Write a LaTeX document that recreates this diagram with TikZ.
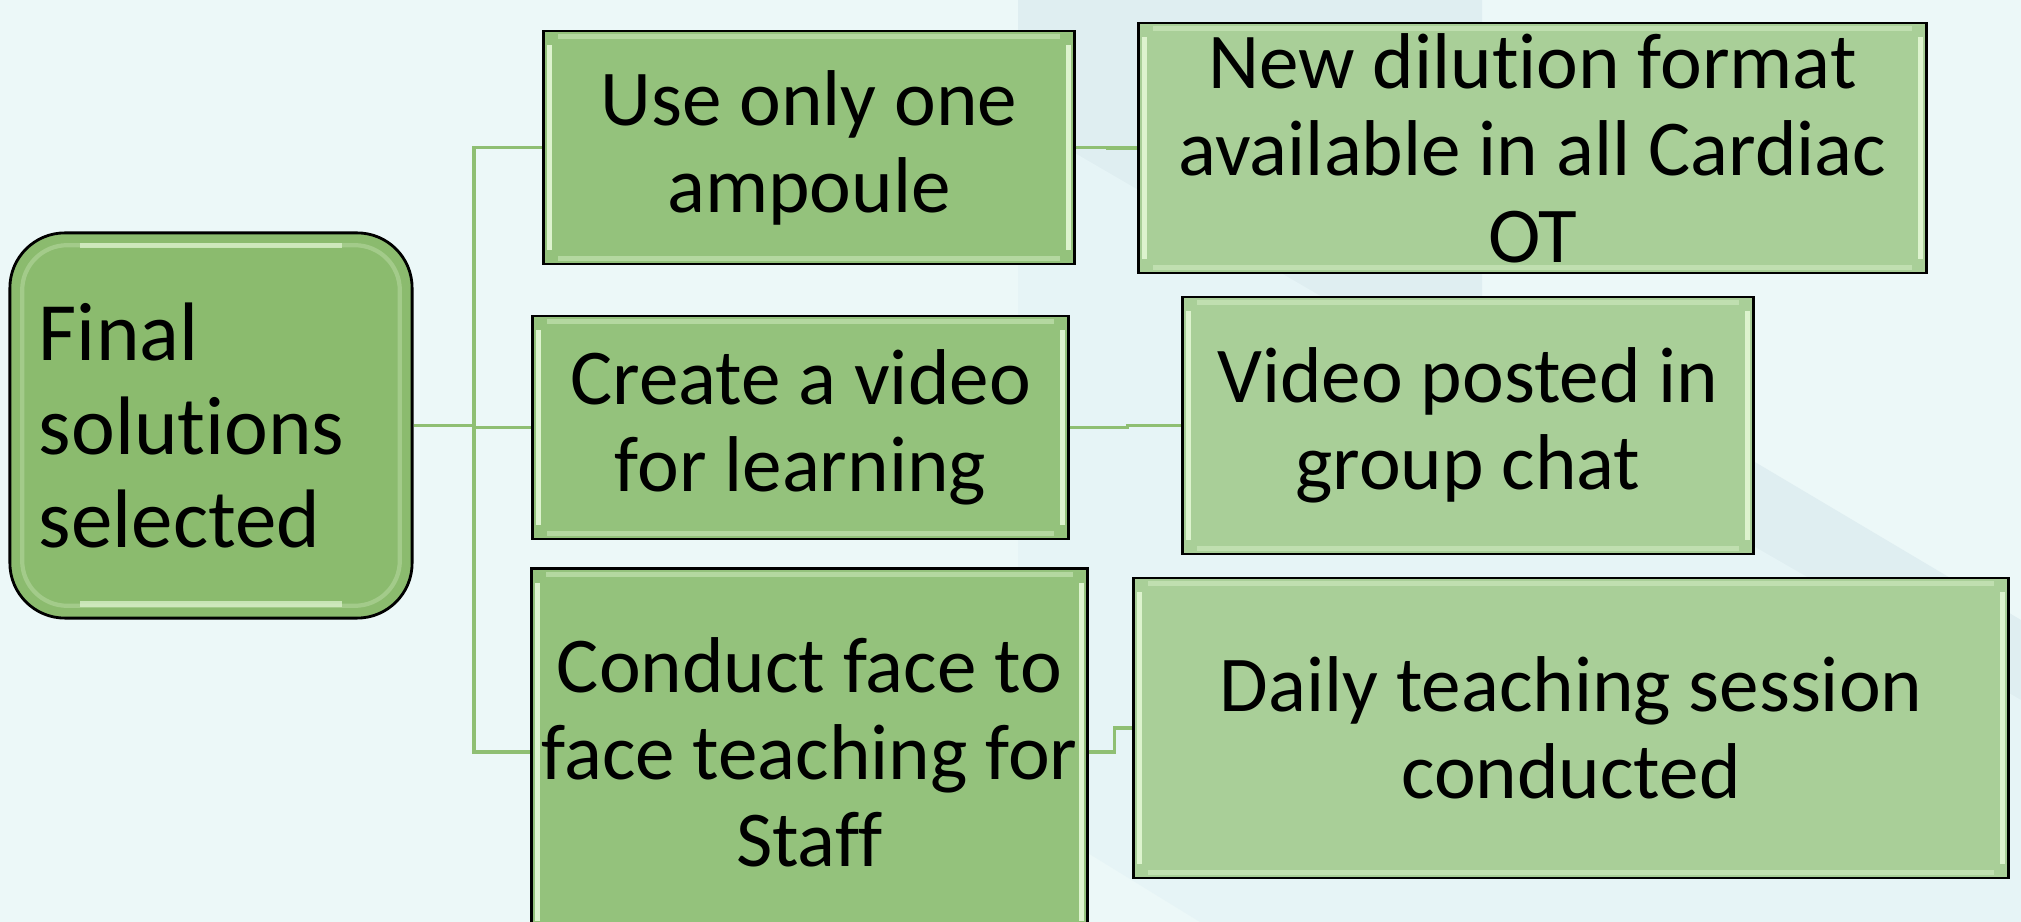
\documentclass[tikz,border=0pt]{standalone}
\usepackage{fontspec}
\setmainfont{Carlito}[Ligatures={NoCommon,NoRequired,NoContextual}]
\usepackage{tikz}

\definecolor{bgcyan}{HTML}{ECF8F8}
\definecolor{bgband}{HTML}{DFEEF1}
\definecolor{bgstreak}{HTML}{E6F4F6}
\definecolor{rootgreen}{HTML}{8BBB6E}
\definecolor{solgreen}{HTML}{94C27C}
\definecolor{outgreen}{HTML}{A9CF98}
\definecolor{linkgreen}{HTML}{8FBF73}
\definecolor{bevelhi}{HTML}{DDF3CE}

\tikzset{
  bevelled/.style={path picture={
      \draw[bevelhi, line width=1.5pt]
        ([shift={(1.6pt,-4pt)}]path picture bounding box.north west) --
        ([shift={(1.6pt,4pt)}]path picture bounding box.south west)
        ([shift={(-1.6pt,-4pt)}]path picture bounding box.north east) --
        ([shift={(-1.6pt,4pt)}]path picture bounding box.south east);
      \draw[bevelhi, line width=1.2pt, opacity=0.45]
        ([shift={(4pt,-1.6pt)}]path picture bounding box.north west) --
        ([shift={(-4pt,-1.6pt)}]path picture bounding box.north east)
        ([shift={(4pt,1.6pt)}]path picture bounding box.south west) --
        ([shift={(-4pt,1.6pt)}]path picture bounding box.south east);}},
  rootbox/.style={draw=black, line width=0.8pt, fill=rootgreen, rounded corners=0.55cm,
      minimum width=4.02cm, minimum height=3.85cm, text width=3.44cm, inner xsep=0.29cm,
      align=left, font=\fontsize{23.6}{26.6}\selectfont,
      path picture={
      \draw[bevelhi, line width=1.2pt, opacity=0.3, rounded corners=0.45cm]
        ([shift={(3.5pt,-3.5pt)}]path picture bounding box.north west) rectangle
        ([shift={(-3.5pt,3.5pt)}]path picture bounding box.south east);
      \draw[bevelhi, line width=1.5pt, opacity=0.75]
        ([shift={(0.7cm,-3.5pt)}]path picture bounding box.north west) --
        ([shift={(-0.7cm,-3.5pt)}]path picture bounding box.north east)
        ([shift={(0.7cm,4pt)}]path picture bounding box.south west) --
        ([shift={(-0.7cm,4pt)}]path picture bounding box.south east);}},
  solbox/.style={draw=black, line width=0.8pt, fill=solgreen, bevelled, inner sep=0pt,
      align=center, font=\fontsize{22.5}{24.7}\selectfont},
  outbox/.style={solbox, fill=outgreen},
  link/.style={draw=linkgreen, line width=0.9pt}
}

\begin{document}
\begin{tikzpicture}[x=0.01cm, y=-0.01cm]
    \useasboundingbox (0,0) rectangle (2021,922);
    % background
    \fill[bgcyan] (0,0) rectangle (2021,922);
    \fill[bgband] (1018,0) -- (1482,0) -- (1482,300) -- (2021,620) -- (2021,922)
        -- (1300,922) -- (1018,760) -- cycle;
    \fill[bgstreak] (1018,120) -- (1482,390) -- (2021,700) -- (2021,922) -- (1200,922)
        -- (1018,810) -- cycle;

    \node[rootbox] (root) at (211,425.5) {Final\\solutions\\selected};

    \node[solbox, minimum width=5.30cm, minimum height=2.33cm] (ampoule) at (809,147.5)
        {Use only one\\ampoule};
    \node[solbox, minimum width=5.35cm, minimum height=2.23cm] (video) at (800.5,427.5)
        {Create a video\\for learning};
    \node[solbox, minimum width=5.55cm, minimum height=3.66cm] (face) at (809.5,752)
        {Conduct face to\\face teaching for\\Staff};

    \node[outbox, minimum width=7.87cm, minimum height=2.50cm] (dilution) at (1532.5,148)
        {New dilution format\\available in all Cardiac\\OT};
    \node[outbox, minimum width=5.70cm, minimum height=2.57cm] (posted) at (1468,425.5)
        {Video posted in\\group chat};
    \node[outbox, minimum width=8.74cm, minimum height=3.00cm] (daily) at (1571,728)
        {Daily teaching session\\conducted};

    \coordinate (trunk) at (474,0);
    \draw[link] (root.east) -- (root.east -| trunk) |- (ampoule.west);
    \draw[link] (root.east -| trunk) |- (video.west);
    \draw[link] (root.east -| trunk) |- (face.west);

    \draw[link] (ampoule.east) -- ++(32,0) |- (dilution.west);
    \draw[link] (video.east) -- ++(58,0) |- (posted.west);
    \draw[link] (face.east) -- ++(26,0) |- (daily.west);
\end{tikzpicture}
\end{document}
